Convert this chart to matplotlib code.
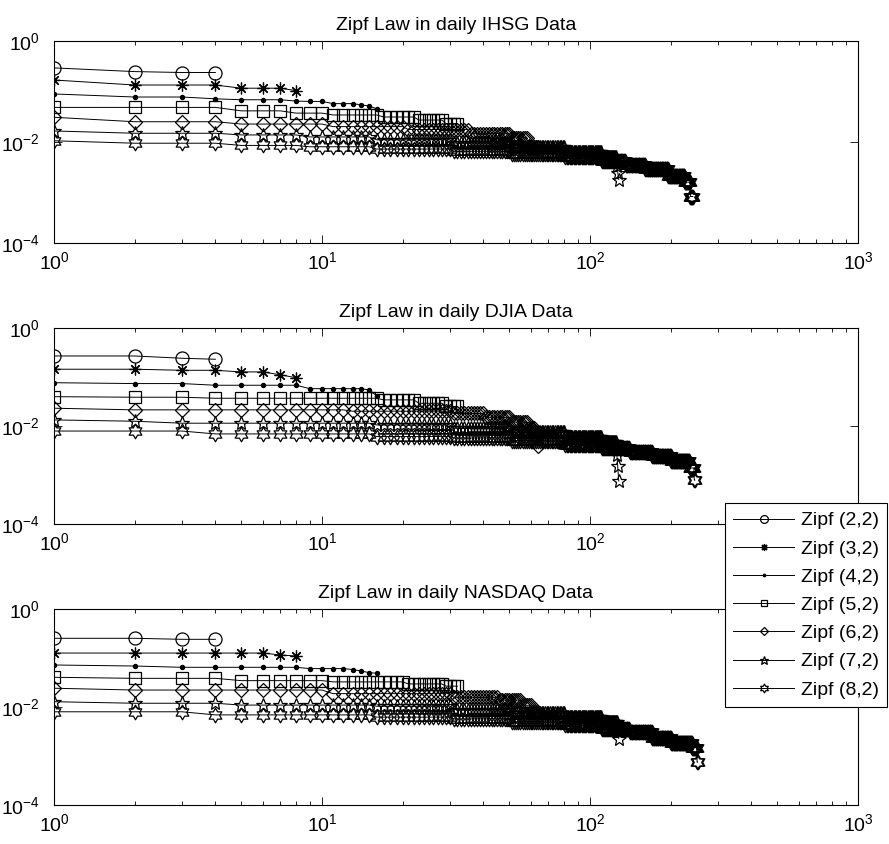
import numpy as np
import matplotlib
matplotlib.use('Agg')
import matplotlib.pyplot as plt
from matplotlib.path import Path
from matplotlib.ticker import LogLocator, NullLocator

plt.rcParams['font.family'] = ['Liberation Sans', 'DejaVu Sans']
plt.rcParams['font.size'] = 14

# (value, how many consecutive ranks)
ihsg_z2 = [(0.290, 1), (0.245, 1), (0.235, 2)]
ihsg_z3 = [(0.167, 1), (0.133, 3), (0.115, 3), (0.103, 1)]
ihsg_z4 = [(0.0885, 1), (0.077, 2), (0.071, 1), (0.068, 3), (0.064, 1), (0.063, 2),
           (0.057, 3), (0.054, 1), (0.051, 1), (0.045, 1)]
ihsg_z5 = [(0.048, 4), (0.041, 3), (0.037, 3), (0.034, 6), (0.031, 6), (0.027, 6), (0.023, 4)]
ihsg_z6 = [(0.0306, 1), (0.025, 3), (0.0225, 6), (0.020, 10), (0.0175, 15), (0.0145, 15),
           (0.012, 8), (0.008, 6)]
ihsg_z7 = [(0.0164, 1), (0.0148, 3), (0.0137, 4), (0.0125, 7), (0.011, 15), (0.0095, 20),
           (0.0078, 30), (0.0062, 30), (0.005, 15), (0.0033, 1), (0.0024, 1), (0.0018, 1)]
ihsg_z8 = [(0.0105, 1), (0.0094, 3), (0.0085, 4), (0.0080, 7), (0.0072, 15), (0.0065, 20),
           (0.0058, 30), (0.0050, 30), (0.0042, 25), (0.0035, 25), (0.0029, 35),
           (0.0021, 30), (0.0016, 11), (0.00083, 6)]

djia_z2 = [(0.266, 2), (0.239, 1), (0.228, 1)]
djia_z3 = [(0.143, 2), (0.136, 2), (0.126, 2), (0.110, 1), (0.096, 1)]
djia_z4 = [(0.076, 1), (0.073, 2), (0.0675, 5), (0.0575, 6), (0.054, 1), (0.041, 1)]
djia_z5 = [(0.0395, 1), (0.0385, 2), (0.0367, 13), (0.034, 6), (0.029, 6), (0.025, 4)]
djia_z6 = [(0.023, 1), (0.0213, 11), (0.020, 18), (0.018, 10), (0.015, 10), (0.012, 8),
           (0.009, 4), (0.006, 1), (0.004, 1)]
djia_z7 = [(0.0133, 1), (0.0125, 1), (0.0114, 13), (0.0105, 15), (0.0090, 20), (0.0075, 30),
           (0.0060, 30), (0.0048, 15), (0.0026, 1), (0.0015, 1), (0.00076, 1)]
djia_z8 = [(0.0079, 3), (0.0069, 12), (0.0061, 15), (0.0057, 20), (0.0050, 30), (0.0042, 30),
           (0.0036, 30), (0.0030, 30), (0.0024, 30), (0.0019, 35), (0.0014, 9), (0.00079, 2)]

nasdaq_z2 = [(0.256, 2), (0.244, 2)]
nasdaq_z3 = [(0.128, 6), (0.117, 1), (0.111, 1)]
nasdaq_z4 = [(0.073, 1), (0.0696, 1), (0.0655, 6), (0.0617, 4), (0.059, 1), (0.055, 1),
             (0.051, 1), (0.0495, 1)]
nasdaq_z5 = [(0.041, 1), (0.039, 3), (0.035, 6), (0.033, 10), (0.030, 8), (0.027, 4)]
nasdaq_z6 = [(0.0245, 1), (0.0225, 9), (0.019, 20), (0.016, 15), (0.014, 10), (0.011, 5),
             (0.008, 4)]
nasdaq_z7 = [(0.013, 1), (0.0121, 3), (0.0111, 11), (0.0105, 15), (0.0090, 20), (0.0075, 30),
             (0.0062, 30), (0.0050, 16), (0.0035, 1), (0.0023, 1)]
nasdaq_z8 = [(0.0081, 3), (0.0070, 12), (0.0063, 15), (0.0058, 20), (0.0050, 30), (0.0043, 30),
             (0.0036, 30), (0.0031, 30), (0.0024, 30), (0.0019, 40), (0.0015, 10), (0.00076, 2)]

labels = ['Zipf (2,2)', 'Zipf (3,2)', 'Zipf (4,2)', 'Zipf (5,2)',
          'Zipf (6,2)', 'Zipf (7,2)', 'Zipf (8,2)']
titles = ['Zipf Law in daily IHSG Data', 'Zipf Law in daily DJIA Data',
          'Zipf Law in daily NASDAQ Data']
panels = [
    [ihsg_z2, ihsg_z3, ihsg_z4, ihsg_z5, ihsg_z6, ihsg_z7, ihsg_z8],
    [djia_z2, djia_z3, djia_z4, djia_z5, djia_z6, djia_z7, djia_z8],
    [nasdaq_z2, nasdaq_z3, nasdaq_z4, nasdaq_z5, nasdaq_z6, nasdaq_z7, nasdaq_z8],
]


def expand(steps):
    vals = np.concatenate([np.full(n, v) for v, n in steps])
    return np.arange(1, len(vals) + 1), vals


# matlab style hexagram
ang = np.deg2rad(np.arange(12) * 30 + 90)
rad = np.where(np.arange(12) % 2 == 0, 1.0, 1 / np.sqrt(3))
hv = np.column_stack([rad * np.cos(ang), rad * np.sin(ang)])
hexagram = Path(np.vstack([hv, hv[:1]]), closed=True)

styles = [
    dict(marker='o', ms=9.4, mfc='none'),
    dict(marker=(8, 2, 0), ms=8.5),
    dict(marker='.', ms=6),
    dict(marker='s', ms=8, mfc='none'),
    dict(marker='D', ms=6.8, mfc='none'),
    dict(marker='*', ms=10.5, mfc='none'),
    dict(marker=hexagram, ms=10.5, mfc='none'),
]

W, H = 889, 844
fig = plt.figure(figsize=(W / 100, H / 100), dpi=100)
boxes = [(40.7, 243.0), (327.7, 524.3), (609.3, 805.3)]  # top, bottom in px
left, right = 54, 858

axes = []
for (top, bot), series, title in zip(boxes, panels, titles):
    ax = fig.add_axes([left / W, 1 - bot / H, (right - left) / W, (bot - top) / H])
    for steps, st in zip(series, styles):
        x, y = expand(steps)
        ax.plot(x, y, color='k', lw=0.7, mec='k', mew=0.9, **st)
    ax.set_xscale('log')
    ax.set_yscale('log')
    ax.set_xlim(1, 1000)
    ax.set_ylim(1e-4, 1)
    ax.set_yticks([1e-4, 1e-2, 1])
    ax.yaxis.set_minor_locator(NullLocator())
    ax.xaxis.set_major_locator(LogLocator(base=10))
    ax.xaxis.set_minor_locator(LogLocator(base=10, subs=np.arange(2, 10)))
    ax.tick_params(which='both', direction='in', top=True, right=True, width=0.6)
    ax.tick_params(which='major', length=5.5, labelsize=14)
    ax.tick_params(which='minor', length=3.1)
    ax.tick_params(axis='x', pad=6)
    ax.tick_params(axis='y', pad=10)
    for s in ax.spines.values():
        s.set_linewidth(0.8)
    ax.set_title(title, fontsize=14, pad=8)
    axes.append(ax)

handles = axes[0].get_lines()
leg = fig.legend(handles, labels, loc='upper left', bbox_to_anchor=(724.7 / W, 1 - 503 / H),
                 borderaxespad=0, fancybox=False, edgecolor='k', framealpha=1,
                 markerscale=0.6, handlelength=3.1, handletextpad=0.35,
                 labelspacing=0.545, borderpad=0.45, fontsize=14)
leg.get_frame().set_linewidth(0.8)

fig.savefig('out.png', dpi=100)
